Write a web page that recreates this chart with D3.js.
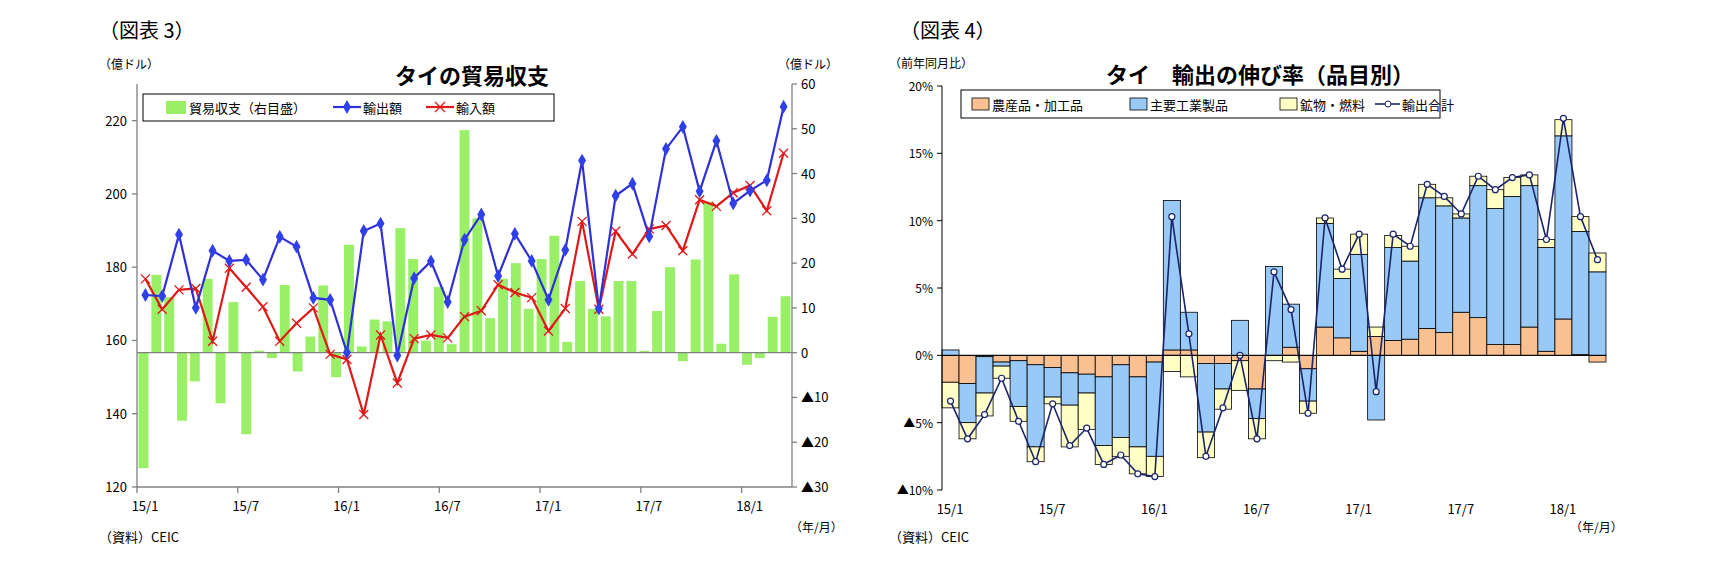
<!DOCTYPE html>
<html><head><meta charset="utf-8">
<script src="https://cdnjs.cloudflare.com/ajax/libs/d3/7.8.5/d3.min.js"></script>
<style>body{margin:0;background:#fff}text{font-family:"Noto Sans CJK JP",sans-serif}</style>
</head><body><svg id="c" width="1711" height="580"></svg>
<script>
// ---------- data: chart 3 ----------
const months=[];for(let y=15;y<=18;y++)for(let m=1;m<=12;m++){if(y===18&&m>3)break;months.push(y+"/"+m);}
const exportsV=[172.4,172.1,188.9,168.9,184.5,181.7,182.0,176.6,188.3,185.6,171.6,171.1,156.7,189.9,191.9,155.9,177.0,181.6,170.5,187.5,194.4,177.6,189.1,181.7,171.1,184.7,209.1,168.7,199.5,202.8,188.4,212.3,218.3,200.7,214.5,197.4,200.9,203.7,223.8];
const importsV=[176.8,168.5,173.8,174.2,159.8,179.7,174.5,169.2,159.8,164.7,168.9,156.2,154.8,139.8,161.5,148.4,160.5,161.5,160.7,166.5,168.1,175.2,173.1,171.7,162.6,168.7,192.5,168.5,189.8,183.6,190.4,191.4,184.5,198.4,196.6,200.3,202.3,195.4,211.1];
const balanceV=[-25.8,17.4,12.4,-15.2,-6.4,16.5,-11.3,11.3,-18.2,0.45,-1.2,15.1,-4.2,3.6,15.0,-5.5,24.1,1.4,7.4,7.0,27.8,20.9,2.7,14.7,1.9,49.7,30.0,7.7,16.5,20.0,9.8,20.9,26.1,2.4,16.0,9.8,8.1,16.0,16.0,0.4,9.3,19.1,-1.9,20.8,33.7,2.0,17.5,-2.7,-1.2,8.0,12.6];
const leftTicks=[120,140,160,180,200,220];
const rightTicks=[-30,-20,-10,0,10,20,30,40,50,60];
const xTickLabels=["15/1","15/7","16/1","16/7","17/1","17/7","18/1"];
// ---------- data: chart 4 ----------
const agri=[-2.0,-2.1,-0.1,-0.5,-0.4,-0.7,-0.9,-1.3,-1.4,-1.6,-0.7,-1.6,-0.5,0.4,0.4,-0.6,-0.6,-0.4,-2.5,0,0.6,-1.0,2.1,1.3,0.3,1.4,1.1,1.2,2.0,1.7,3.2,2.8,0.8,0.8,2.1,0.3,2.7,0.05,-0.5];
const indus=[0.4,-2.9,-2.7,-0.3,-3.4,-6.1,-2.2,-2.4,-1.4,-5.1,-5.4,-5.2,-7.0,11.1,2.8,-5.1,-1.9,2.6,-2.2,6.6,3.2,-2.4,7.7,4.4,7.2,-4.8,6.9,5.8,9.7,9.4,7.0,9.8,10.1,11.0,10.5,7.7,13.6,9.15,6.2];
const miner=[-1.9,-1.2,-1.7,-0.9,-1.1,-1.1,-0.5,-3.1,-2.7,-1.4,-1.4,-2.0,-1.5,-1.2,-1.6,-1.9,-1.5,-2.2,-1.5,-0.4,-0.5,-0.9,0.4,0.7,1.5,0.7,0.9,1.1,1.0,0.6,0.3,0.7,1.4,1.4,0.8,0.6,1.2,1.1,1.4];
const totalV=[-3.4,-6.2,-4.4,-1.7,-4.9,-7.9,-3.6,-6.7,-5.4,-8.1,-7.4,-8.8,-9.0,10.3,1.6,-7.5,-3.9,0.0,-6.2,6.2,3.4,-4.3,10.2,6.4,9.0,-2.7,9.0,8.1,12.7,11.8,10.5,13.3,12.3,13.2,13.4,8.6,17.6,10.3,7.1];
const pctTicks=[-10,-5,0,5,10,15,20];

const svg=d3.select("#c");
const T=(x,y,s,o={})=>{const t=svg.append("text").attr("x",x).attr("y",y).text(s).attr("font-size",o.fs||13).attr("fill","#000");if(o.a)t.attr("text-anchor",o.a);if(o.w)t.attr("font-weight",o.w);return t;};
const neg=v=>v<0?"▲"+Math.abs(v):String(v);

// ===== chart 3 =====
{
const L=137,R=792,Tp=84,B=487;
const xb=d3.scaleBand().domain(months).range([L,R]);
const xBar=d3.scaleBand().domain(d3.range(balanceV.length)).range([L,R]).paddingInner(0.23).paddingOuter(0.12);
const yL=d3.scaleLinear().domain([120,230]).range([B,Tp]);
const yR=d3.scaleLinear().domain([-30,60]).range([B,Tp]);
const g=svg.append("g");
g.selectAll("rect").data(balanceV).join("rect").attr("x",(d,i)=>xBar(i)).attr("width",xBar.bandwidth())
 .attr("y",d=>yR(Math.max(0,d))).attr("height",d=>Math.abs(yR(d)-yR(0))).attr("fill","#99f066");
g.append("line").attr("x1",L).attr("x2",R).attr("y1",yR(0)).attr("y2",yR(0)).attr("stroke","#808080").attr("stroke-width",1.3);
const cx=i=>xb(months[i])+xb.bandwidth()/2;
const lineF=(arr,y)=>d3.line().x((d,i)=>cx(i)).y(d=>y(d))(arr);
g.append("path").attr("d",lineF(importsV,yL)).attr("fill","none").attr("stroke","#e01818").attr("stroke-width",2.2);
importsV.forEach((d,i)=>{const x=cx(i),y=yL(d),s=4.5;g.append("path").attr("d",`M${x-s},${y-s}L${x+s},${y+s}M${x-s},${y+s}L${x+s},${y-s}`).attr("stroke","#e01818").attr("stroke-width",1.3);});
g.append("path").attr("d",lineF(exportsV,yL)).attr("fill","none").attr("stroke","#3030d8").attr("stroke-width",2.2);
g.selectAll(".dm").data(exportsV).join("path").attr("d",d3.symbol(d3.symbolDiamond,55)).attr("transform",(d,i)=>`translate(${cx(i)},${yL(d)})`).attr("fill","#3040e8");
// axes
const ax=svg.append("g").attr("stroke","#808080").attr("stroke-width",1.3);
ax.append("line").attr("x1",L).attr("x2",L).attr("y1",Tp).attr("y2",B);
ax.append("line").attr("x1",R).attr("x2",R).attr("y1",Tp).attr("y2",B);
ax.append("line").attr("x1",L).attr("x2",R).attr("y1",B).attr("y2",B);
leftTicks.forEach(v=>{ax.append("line").attr("x1",L-5).attr("x2",L).attr("y1",yL(v)).attr("y2",yL(v));T(L-10,yL(v)+5,v,{a:"end"});});
rightTicks.forEach(v=>{ax.append("line").attr("x1",R).attr("x2",R+5).attr("y1",yR(v)).attr("y2",yR(v));T(R+9,yR(v)+5,neg(v));});
xTickLabels.forEach((s,k)=>{const x=xb(months[k*6]);ax.append("line").attr("x1",x).attr("x2",x).attr("y1",B).attr("y2",B+6);T(x+8,B+24,s,{a:"middle"});});
T(472,84,"タイの貿易収支",{fs:22,a:"middle",w:"bold"});
T(99,69,"（億ドル）",{fs:12});T(778,69,"（億ドル）",{fs:12});
T(790,532,"（年/月）",{fs:12});T(99,542,"（資料）CEIC",{fs:13});
// legend
svg.append("rect").attr("x",143).attr("y",94).attr("width",411).attr("height",27).attr("fill","#fff").attr("stroke","#000");
svg.append("rect").attr("x",166).attr("y",101).attr("width",20).attr("height",13).attr("fill","#99f066");
T(189,113,"貿易収支（右目盛）",{fs:13});
svg.append("line").attr("x1",333).attr("x2",361).attr("y1",107).attr("y2",107).attr("stroke","#3030d8").attr("stroke-width",2.2);
svg.append("path").attr("d",d3.symbol(d3.symbolDiamond,55)).attr("transform","translate(347,107)").attr("fill","#3040e8");
T(363,113,"輸出額",{fs:13});
svg.append("line").attr("x1",426).attr("x2",454).attr("y1",107).attr("y2",107).attr("stroke","#e01818").attr("stroke-width",2.2);
svg.append("path").attr("d","M435,102L445,112M435,112L445,102").attr("stroke","#e01818").attr("stroke-width",1.3);
T(456,113,"輸入額",{fs:13});
}
// ===== chart 4 =====
{
const L=942,R=1606,Tp=86,B=490;
const x=d3.scaleBand().domain(months).range([L,R]);
const y=d3.scaleLinear().domain([-10,20]).range([B,Tp]);
const g=svg.append("g");
const cols=["#f9c191","#99c9f7","#ffffc6"];
months.forEach((m,i)=>{let pos=0,ng=0;[agri[i],indus[i],miner[i]].forEach((v,k)=>{let y0,y1;if(v>=0){y0=pos;y1=pos+v;pos=y1;}else{y0=ng;y1=ng+v;ng=y1;}
 g.append("rect").attr("x",x(m)).attr("width",x.bandwidth()).attr("y",y(Math.max(y0,y1))).attr("height",Math.abs(y(y0)-y(y1))).attr("fill",cols[k]).attr("stroke","#000").attr("stroke-width",0.8);});});
const cx=i=>x(months[i])+x.bandwidth()/2;
g.append("path").attr("d",d3.line().x((d,i)=>cx(i)).y(d=>y(d))(totalV)).attr("fill","none").attr("stroke","#1a2468").attr("stroke-width",1.6);
g.selectAll("circle").data(totalV).join("circle").attr("cx",(d,i)=>cx(i)).attr("cy",d=>y(d)).attr("r",3).attr("fill","#fff").attr("stroke","#1a2468").attr("stroke-width",1.2);
const ax=svg.append("g").attr("stroke","#000").attr("stroke-width",1);
ax.append("line").attr("x1",L).attr("x2",L).attr("y1",Tp).attr("y2",B);
ax.append("line").attr("x1",L).attr("x2",R).attr("y1",y(0)).attr("y2",y(0));
pctTicks.forEach(v=>{ax.append("line").attr("x1",L-5).attr("x2",L).attr("y1",y(v)).attr("y2",y(v));T(L-9,y(v)+5,(v<0?"▲"+(-v):v)+"%",{a:"end",fs:12});});
xTickLabels.forEach((s,k)=>{T(x(months[k*6])+8,B+24,s,{a:"middle"});});
T(1260,83,"タイ　輸出の伸び率（品目別）",{fs:22,a:"middle",w:"bold"});
T(889,68,"（前年同月比）",{fs:12});
T(1570,532,"（年/月）",{fs:12});T(889,542,"（資料）CEIC",{fs:13});
svg.append("rect").attr("x",961).attr("y",90).attr("width",479).attr("height",28).attr("fill","#fff").attr("stroke","#000");
const lg=[["農産品・加工品",972],["主要工業製品",1130],["鉱物・燃料",1280]];
lg.forEach(([s,xx],k)=>{svg.append("rect").attr("x",xx).attr("y",98).attr("width",17).attr("height",12).attr("fill",cols[k]).attr("stroke","#000").attr("stroke-width",0.8);T(xx+20,110,s,{fs:13});});
svg.append("line").attr("x1",1400-25).attr("x2",1400).attr("y1",104).attr("y2",104).attr("stroke","#1a2468").attr("stroke-width",1.6);
svg.append("circle").attr("cx",1388).attr("cy",104).attr("r",3).attr("fill","#fff").attr("stroke","#1a2468");
T(1402,110,"輸出合計",{fs:13});
}
T(99,38,"（図表 3）",{fs:20});T(900,38,"（図表 4）",{fs:20});
</script></body></html>
